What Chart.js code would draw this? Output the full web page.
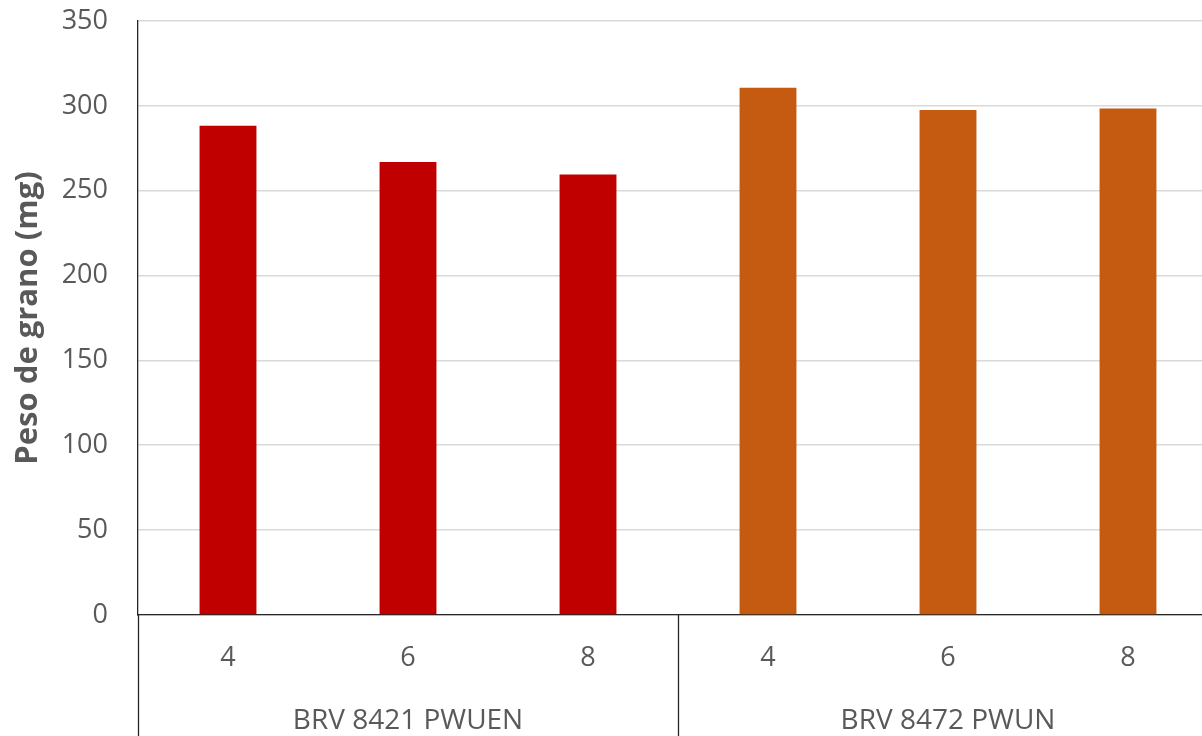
<!DOCTYPE html>
<html>
<head>
<meta charset="utf-8">
<script src="https://cdn.jsdelivr.net/npm/chart.js@4.4.1/dist/chart.umd.min.js"></script>
<style>
html,body{margin:0;padding:0;background:#ffffff;overflow:hidden;}
#wrap{position:relative;width:1218px;height:736px;}
</style>
</head>
<body>
<div id="wrap"><canvas id="c"></canvas></div>
<script>
// ---- data ----
const categories = ['4', '6', '8', '4', '6', '8'];
const groups = ['BRV 8421 PWUEN', 'BRV 8472 PWUN'];
const groupSizes = [3, 3];
const values = [288.3, 266.9, 259.6, 310.6, 297.6, 298.5];
const yTickValues = [0, 50, 100, 150, 200, 250, 300, 350];
const yTitle = 'Peso de grano (mg)';

// ---- styles ----
const groupColors = ['#C00000', '#C55A11'];
const textColor = '#595959';
const axisColor = '#262626';
const gridColor = '#d9d9d9';
const fontFamily = "'Open Sans', 'Noto Sans', sans-serif";

// which group each bar belongs to (from groupSizes)
const barGroup = [];
groupSizes.forEach((s, g) => { for (let k = 0; k < s; k++) barGroup.push(g); });

const dividerPlugin = {
  id: 'groupDividers',
  afterDraw(chart) {
    const xs = chart.scales.x;
    const ctx = chart.ctx;
    const xsPos = [xs.left];
    let idx = 0;
    groupSizes.forEach(s => {
      idx += s;
      if (idx < categories.length) {
        xsPos.push((xs.getPixelForValue(idx - 1) + xs.getPixelForValue(idx)) / 2);
      } else {
        xsPos.push(xs.right);
      }
    });
    ctx.save();
    ctx.strokeStyle = axisColor;
    ctx.lineWidth = 1.3;
    xsPos.forEach(px => {
      const x = Math.round(px) + 0.5;
      ctx.beginPath();
      ctx.moveTo(x, chart.chartArea.bottom);
      ctx.lineTo(x, chart.height);
      ctx.stroke();
    });
    ctx.restore();
  }
};

new Chart(document.getElementById('c'), {
  type: 'bar',
  data: {
    labels: categories,
    datasets: [{
      data: values,
      backgroundColor: ctx => groupColors[barGroup[ctx.dataIndex]],
      borderWidth: 0,
      categoryPercentage: 1,
      barPercentage: 0.316
    }]
  },
  options: {
    responsive: true,
    maintainAspectRatio: false,
    animation: false,
    devicePixelRatio: 1,
    layout: { padding: { top: 21, left: 0, right: 0, bottom: 0 } },
    plugins: {
      legend: { display: false },
      tooltip: { enabled: false },
      title: { display: false }
    },
    scales: {
      y: {
        min: 0,
        max: 350,
        afterBuildTicks: scale => { scale.ticks = yTickValues.map(v => ({ value: v })); },
        afterFit: scale => {
          scale.width = 138;
          scale.paddingTop = 0;
          scale.paddingBottom = 0;
        },
        grid: { color: gridColor, lineWidth: 1.6, drawTicks: false },
        border: { display: true, color: axisColor, width: 1.3 },
        ticks: {
          padding: 30,
          color: textColor,
          font: { family: fontFamily, size: 27 }
        },
        title: {
          display: true,
          text: yTitle,
          color: textColor,
          font: { family: fontFamily, size: 31, weight: 'bold' },
          padding: { top: 10, bottom: 0 }
        }
      },
      x: {
        position: 'bottom',
        weight: 0,
        offset: true,
        afterFit: scale => { scale.height = 74; },
        grid: { display: false, drawTicks: false },
        border: { display: true, color: axisColor, width: 1.3 },
        ticks: {
          padding: 27,
          color: textColor,
          font: { family: fontFamily, size: 27 },
          maxRotation: 0,
          autoSkip: false
        }
      },
      x2: {
        type: 'category',
        position: 'bottom',
        weight: 1,
        labels: groups,
        offset: true,
        afterFit: scale => { scale.height = 47; },
        grid: { display: false, drawTicks: false },
        border: { display: false },
        ticks: {
          padding: 15,
          color: textColor,
          font: { family: fontFamily, size: 28 },
          maxRotation: 0,
          autoSkip: false
        }
      }
    }
  },
  plugins: [dividerPlugin]
});
</script>
</body>
</html>
